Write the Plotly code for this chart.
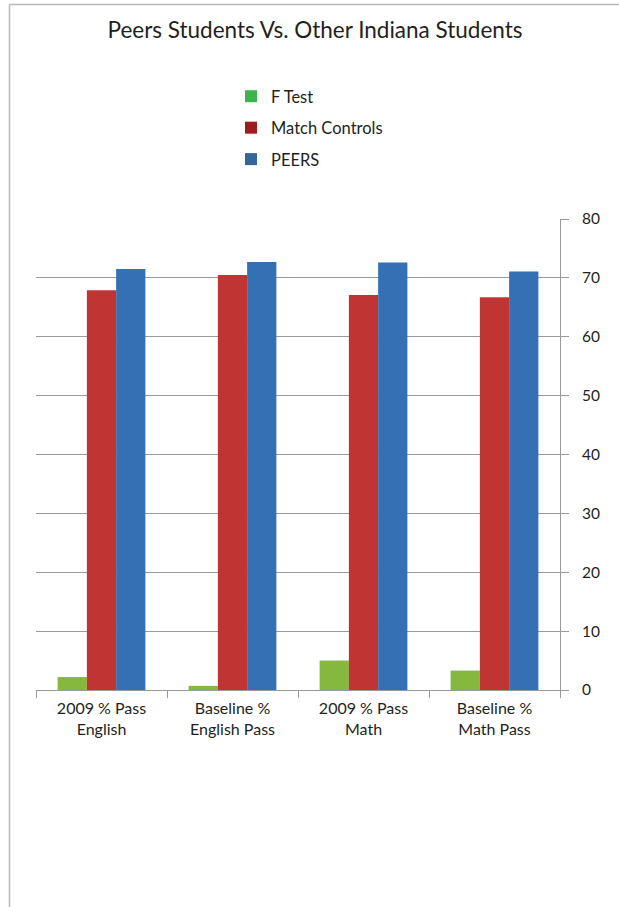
import plotly.graph_objects as go

categories = ["2009 % Pass<br>English", "Baseline %<br>English Pass",
              "2009 % Pass<br>Math", "Baseline %<br>Math Pass"]
series_names = ["F Test", "Match Controls", "PEERS"]
f_test = [2.2, 0.7, 5.0, 3.3]
match_controls = [67.9, 70.5, 67.1, 66.7]
peers = [71.5, 72.7, 72.6, 71.1]
y_ticks = [0, 10, 20, 30, 40, 50, 60, 70, 80]

bar_colors = ["#86b83e", "#c03434", "#3570b4"]
legend_colors = ["#3cb54a", "#9e1b20", "#336699"]
values = [f_test, match_controls, peers]

FONT = "Lato"
TXT = "#231f20"

fig = go.Figure()
for name, vals, col in zip(series_names, values, bar_colors):
    fig.add_trace(go.Bar(x=categories, y=vals, name=name, marker_color=col,
                         marker_line_width=0, showlegend=False))
# legend entries (legend colours differ from bar colours in the original)
for name, col in zip(series_names, legend_colors):
    fig.add_trace(go.Scatter(x=[None], y=[None], name=name, mode="markers",
                             marker=dict(symbol="square", size=12, color=col),
                             legendgroup=name, showlegend=True))

W, H = 619, 907
L, R, T, B = 36, 59, 219, 217
pw, ph = W - L - R, H - T - B

def px_x(x):
    return (x - L) / pw

def px_y(y):
    return (H - B - y) / ph

fig.update_layout(
    width=W, height=H,
    margin=dict(l=L, r=R, t=T, b=B, pad=0),
    paper_bgcolor="white", plot_bgcolor="white",
    barmode="group", bargap=0.33, bargroupgap=0,
    font=dict(family=FONT, color=TXT, size=15),
    title=dict(text="Peers Students Vs. Other Indiana Students",
               x=315 / W, xanchor="center", y=1 - 30 / H, yanchor="middle",
               font=dict(family=FONT, size=22.5, color=TXT)),
    legend=dict(x=px_x(231), xanchor="left", y=px_y(79), yanchor="top",
                traceorder="grouped", tracegroupgap=7,
                font=dict(family=FONT, size=16.5, color=TXT),
                bgcolor="rgba(0,0,0,0)"),
    xaxis=dict(showgrid=False, showline=True, linecolor="#9a9a9a", linewidth=1,
               ticks="outside", tickson="boundaries", ticklen=7, tickcolor="#9a9a9a",
               ticklabelstandoff=4,
               tickfont=dict(family=FONT, size=16, color=TXT)),
    yaxis=dict(side="right", range=[0, 80], tickvals=y_ticks,
               showgrid=True, gridcolor="#9a9a9a", gridwidth=1,
               showline=True, linecolor="#9a9a9a", linewidth=1,
               ticks="outside", ticklen=8, tickcolor="#9a9a9a",
               zeroline=False, ticklabelstandoff=10,
               tickfont=dict(family=FONT, size=15.5, color=TXT)),
    shapes=[
        dict(type="line", xref="paper", yref="paper",
             x0=px_x(9.5), x1=px_x(W), y0=px_y(4.5), y1=px_y(4.5),
             line=dict(color="#b8b8b8", width=1.5)),
        dict(type="line", xref="paper", yref="paper",
             x0=px_x(9.5), x1=px_x(9.5), y0=px_y(4.5), y1=px_y(H),
             line=dict(color="#b8b8b8", width=1.5)),
    ],
)

fig.write_html("out.html")
